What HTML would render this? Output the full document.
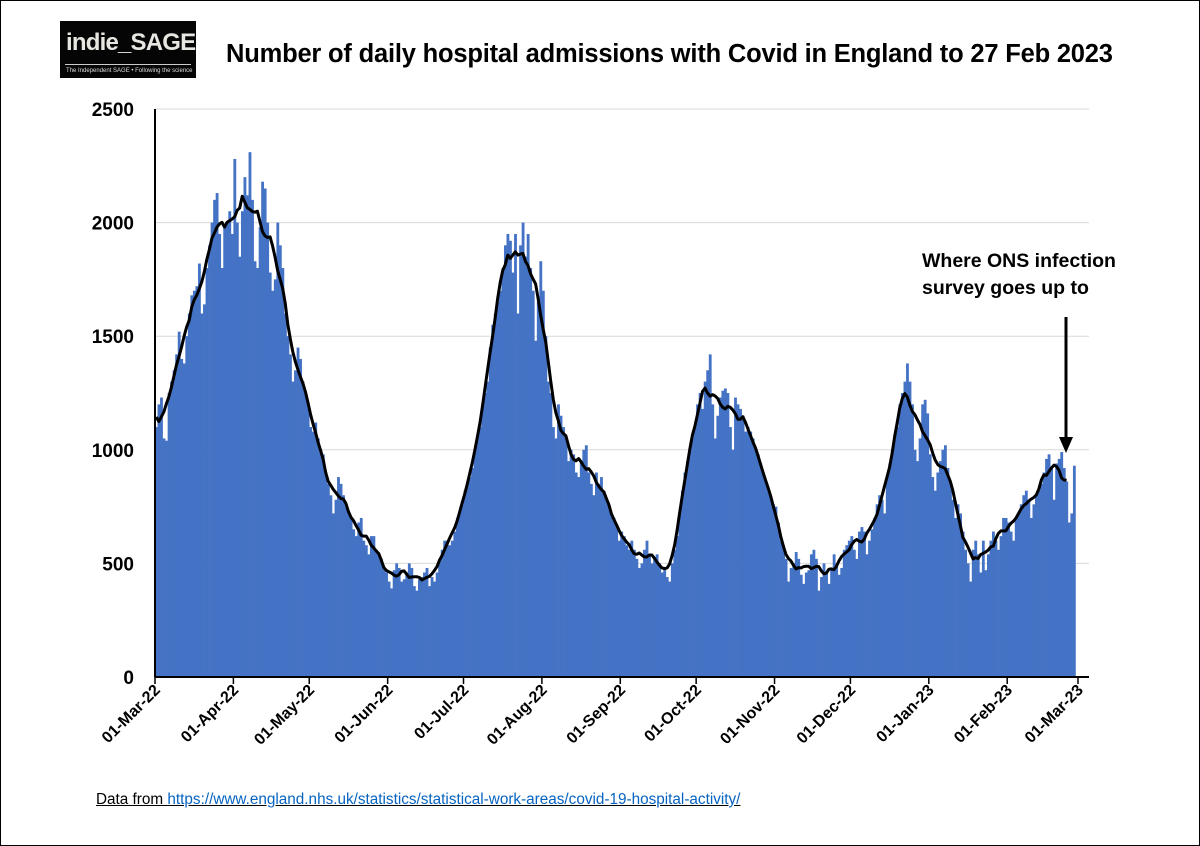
<!DOCTYPE html>
<html><head><meta charset="utf-8"><style>
body{margin:0;background:#fff;font-family:"Liberation Sans",Arial,sans-serif;}
#wrap{position:relative;width:1198px;height:844px;border:1px solid #000;overflow:hidden;}
.abs{position:absolute;font-family:"Liberation Sans",Arial,sans-serif;}
</style></head><body>
<div id="wrap">
<svg id="chart" width="1198" height="844" style="font-family:'Liberation Sans',Arial,sans-serif"></svg>
<div class="abs" style="left:59px;top:20px;width:136px;height:57px;background:#050505;">
 <div style="color:#e8e6e0;font-size:24px;font-weight:bold;position:absolute;left:6px;top:8px;letter-spacing:-0.8px;">indie_SAGE</div>
 <div style="position:absolute;left:5px;right:5px;top:43px;border-top:1px solid #ccc;"></div>
 <div style="color:#ddd;font-size:6px;position:absolute;left:6px;top:47px;white-space:nowrap;">The Independent SAGE • Following the science</div>
</div>
<div class="abs" style="left:225px;top:39px;font-size:25.5px;font-weight:bold;white-space:nowrap;letter-spacing:-0.2px;">Number of daily hospital admissions with Covid in England to 27 Feb 2023</div>
<div class="abs" style="left:921px;top:247px;font-size:19.5px;font-weight:bold;line-height:27px;white-space:nowrap;">Where ONS infection<br>survey goes up to</div>
<svg class="abs" style="left:1054px;top:314px" width="22" height="140"><line x1="11" y1="2" x2="11" y2="126" stroke="#000" stroke-width="3"/><polygon points="4,122 18,122 11,138" fill="#000"/></svg>
<div class="abs" style="left:95px;top:790px;font-size:15.3px;text-decoration:underline;white-space:nowrap;">Data from <a style="color:#0563c1;">https://www.england.nhs.uk/statistics/statistical-work-areas/covid-19-hospital-activity/</a></div>
</div>
<script>
const startDate = [2022, 2, 1];
const admissions = [
1100,1200,1230,1050,1040,1250,1300,1350,1420,1520,1400,1380,1500,1600,1680,1700,1720,1820,1600,1640,1800,1900,2000,2100,2130,1950,1800,1980,2000,2050,1950,
2280,2000,1850,2050,2200,2120,2310,2100,1830,1800,1980,2180,2150,2000,1780,1700,1750,2000,1900,1800,1600,1500,1420,1300,1350,1450,1400,1300,1250,1200,
1100,1080,1120,1050,1000,980,900,850,800,720,780,880,850,800,750,720,700,650,620,680,700,600,580,540,620,620,560,540,520,480,460,
420,390,470,500,480,420,430,460,500,480,400,380,430,440,460,480,400,440,420,460,520,560,600,600,580,600,640,700,720,760,
820,850,880,920,1000,1050,1100,1200,1250,1300,1450,1550,1600,1650,1700,1800,1900,1950,1920,1780,1950,1600,1900,2000,1850,1950,1800,1700,1480,1650,1830,
1700,1500,1300,1250,1100,1050,1200,1150,1100,1050,950,1000,980,900,880,950,1000,1020,900,850,800,900,850,880,820,780,750,720,700,660,600,
640,620,580,560,600,560,520,480,500,560,600,540,500,520,540,500,460,480,440,420,500,560,620,720,820,900,950,1000,1050,1100,
1200,1250,1180,1300,1350,1420,1200,1050,1150,1230,1260,1270,1250,1100,1000,1230,1200,1180,1150,1080,1100,1080,1050,1000,980,940,900,860,820,790,760,
750,680,600,580,520,420,480,500,550,520,450,410,460,470,540,560,520,380,440,500,460,410,470,540,500,450,480,560,580,600,
620,560,520,640,660,640,540,600,650,700,760,800,780,720,880,940,1000,1050,1100,1200,1250,1300,1380,1300,1200,1000,950,1050,1200,1220,1160,
980,880,820,900,950,1000,1020,920,850,780,700,760,720,640,560,500,420,560,600,540,460,600,470,540,600,640,600,560,620,700,700,
680,640,600,700,720,760,800,820,780,700,760,800,820,850,900,960,980,920,780,940,960,990,920,860,680,720,930
];
const yTicks = [0,500,1000,1500,2000,2500];
const xTickLabels = ["01-Mar-22","01-Apr-22","01-May-22","01-Jun-22","01-Jul-22","01-Aug-22","01-Sep-22","01-Oct-22","01-Nov-22","01-Dec-22","01-Jan-23","01-Feb-23","01-Mar-23"];
const xTickDays = [0,31,61,92,122,153,184,214,245,275,306,337,365];

const NS="http://www.w3.org/2000/svg";
const svg=document.getElementById('chart');
const X0=154, X1=1077, Y0=676, YT=108;
const xs=d=>X0+(d/365)*(X1-X0);
const ys=v=>Y0-(v/2500)*(Y0-YT);
function mk(t,a,p){const e=document.createElementNS(NS,t);for(const k in a)e.setAttribute(k,a[k]);(p||svg).appendChild(e);return e;}

yTicks.forEach(v=>{
  if(v>0){const g=mk('line',{x1:X0,x2:1088,y1:ys(v),y2:ys(v),stroke:'#d9d9d9','stroke-width':1});
  
  }
  const t=mk('text',{x:133,y:ys(v)+7,'text-anchor':'end','font-size':19,'font-weight':'bold',fill:'#000'});
  t.textContent=v;
  
  
});
const bw=(X1-X0)/365;
admissions.forEach((v,i)=>{
  const r=mk('rect',{x:xs(i),y:ys(v),width:bw+0.3,height:Y0-ys(v),fill:'#4472c4'});
  
  
});
let pts=[];
for(let i=0;i<admissions.length-3;i++){
  let s=0,n=0;for(let j=i-3;j<=i+3;j++){if(j>=0&&j<admissions.length){s+=admissions[j];n++;}}
  pts.push((xs(i)+bw/2).toFixed(1)+','+ys(s/n).toFixed(1));
}
const pl=mk('polyline',{points:pts.join(' '),fill:'none',stroke:'#000','stroke-width':3,'stroke-linejoin':'round'});


const ya=mk('line',{x1:X0,x2:X0,y1:YT,y2:Y0,stroke:'#000','stroke-width':2});


const xa=mk('line',{x1:X0,x2:1088,y1:Y0,y2:Y0,stroke:'#000','stroke-width':2});


xTickDays.forEach((d,i)=>{
  const x=xs(d);
  const tk=mk('line',{x1:x,x2:x,y1:Y0,y2:Y0+7,stroke:'#000','stroke-width':1.5});
  
  
  const t=mk('text',{x:x+6,y:Y0+14,'text-anchor':'end','font-size':16,'font-weight':'bold',fill:'#000',transform:`rotate(-45 ${x+6} ${Y0+14})`});
  t.textContent=xTickLabels[i];
  
  
});
</script>
</body></html>
